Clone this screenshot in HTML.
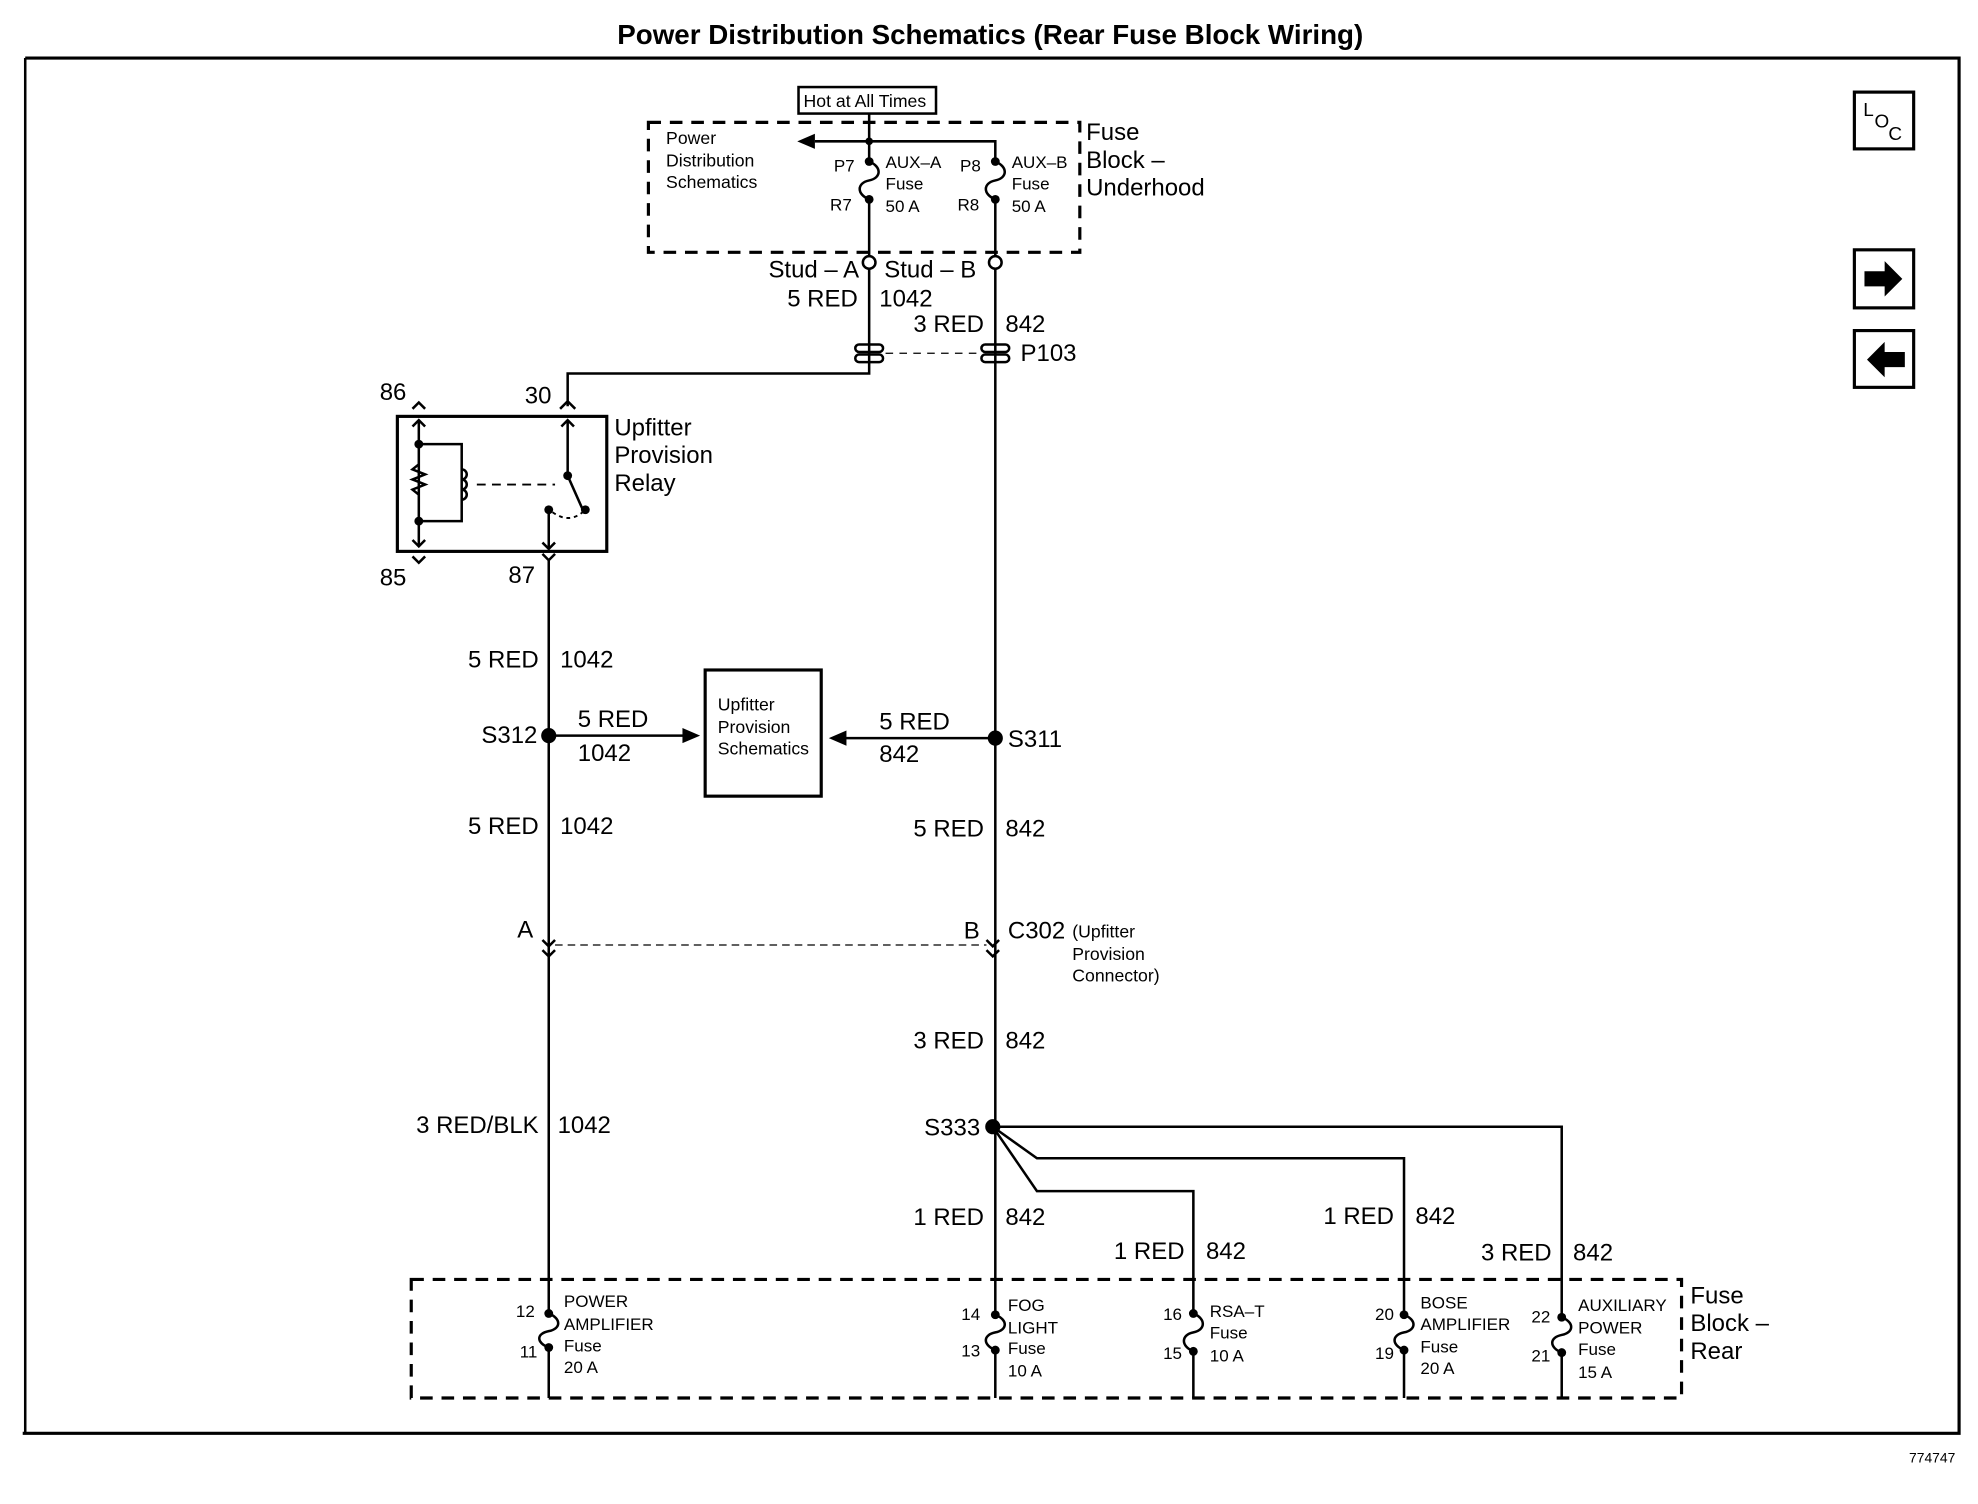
<!DOCTYPE html>
<html><head><meta charset="utf-8"><style>
html,body{margin:0;padding:0;background:#fff}
svg{display:block}
text{font-family:"Liberation Sans",Arial,sans-serif;fill:#000}
.b{font-size:19px}
.s{font-size:13.5px}
.m{font-size:14px}
</style></head><body>
<svg width="1978" height="1504" viewBox="0 0 1568 1192" preserveAspectRatio="none" xmlns="http://www.w3.org/2000/svg">
<g fill="none" stroke="#000" stroke-width="2">
<path d="M20 46 H1553 V1136 H18" stroke-width="2.5"/>
<path d="M20 46 V1136"/>
<rect x="1470" y="73" width="47" height="45" stroke-width="2.5"/>
<rect x="1470" y="198" width="47" height="46" stroke-width="2.5"/>
<rect x="1470" y="262" width="47" height="45" stroke-width="2.5"/>
<rect x="633" y="69" width="109" height="21"/>
<rect x="514" y="97" width="342" height="103" stroke-dasharray="10,7" stroke-width="2.5"/>
<path d="M689 90 V128 M689 158 V203"/>
<path d="M646 112 H789 V128 M789 158 V203"/>
<path d="M689 128 C699 132,699 141,689 143 C679 145,679 154,689 158"/>
<path d="M789 128 C799 132,799 141,789 143 C779 145,779 154,789 158"/>
<circle cx="689" cy="208" r="5"/><circle cx="789" cy="208" r="5"/>
<path d="M689 213 V296 H450 V322"/>
<path d="M789 213 V1108"/>
<rect x="678" y="273" width="22" height="6" rx="3"/><rect x="678" y="281" width="22" height="6" rx="3"/>
<rect x="778" y="273" width="22" height="6" rx="3"/><rect x="778" y="281" width="22" height="6" rx="3"/>
<path d="M702 280 H776" stroke-width="1" stroke-dasharray="6,5"/>
<rect x="315" y="330" width="166" height="107" stroke-width="2.5"/>
<path d="M444 324 L450 318 L456 324 M327 324 L332 319 L337 324 M327 441 L332 446 L337 441"/>
<path d="M332 333 V433 M327 338 L332 333 L337 338 M327 428 L332 433 L337 428"/>
<path d="M332 352 H366 V413 H332"/>
<path d="M332 368 L327 372 L337 376 L327 380 L337 384 L327 388 L332 392"/>
<path d="M366 372 a4 4 0 0 1 0 8 a4 4 0 0 1 0 8 a4 4 0 0 1 0 8"/>
<path d="M378 384 H440" stroke-dasharray="7,5" stroke-width="1.5"/>
<path d="M450 333 V377 L462 404 M445 338 L450 333 L455 338"/>
<path d="M435 404 V435 M430 430 L435 435 L440 430 M430 439 L435 444 L440 439"/>
<path d="M438 406 Q452 416 464 404" stroke-dasharray="3,3" stroke-width="1.5"/>
<path d="M435 444 V1108"/>
<rect x="559" y="531" width="92" height="100" stroke-width="2.5"/>
<path d="M435 583 H545 M789 585 H667"/>
<path d="M430 745 L435 750 L440 745 M430 753 L435 758 L440 753 M782 745 L787 750 L792 745 M782 753 L787 758 L792 753"/>
<path d="M440 749 H782" stroke-width="1" stroke-dasharray="6,4"/>
<path d="M787 893 H1238 V1108"/>
<path d="M787 893 L822 918 H1113 V1108"/>
<path d="M787 893 L822 944 H946 V1108"/>
<rect x="326" y="1014" width="1007" height="94" stroke-dasharray="10,7" stroke-width="2.5"/>
<g stroke="#fff" stroke-width="5"><path d="M435 1044 V1066 M789 1045 V1067 M946 1044 V1068 M1113 1045 V1067 M1238 1047 V1069"/></g>
<path d="M435 1041 C445 1045,445 1053,435 1055 C425 1057,425 1064,435 1068"/>
<path d="M789 1042 C799 1046,799 1054,789 1056 C779 1058,779 1066,789 1070"/>
<path d="M946 1041 C956 1045,956 1054,946 1056 C936 1058,936 1067,946 1071"/>
<path d="M1113 1042 C1123 1046,1123 1054,1113 1056 C1103 1058,1103 1066,1113 1070"/>
<path d="M1238 1044 C1248 1048,1248 1056,1238 1058 C1228 1060,1228 1068,1238 1072"/>
</g>
<g fill="#000">
<circle cx="689" cy="112" r="3"/>
<circle cx="689" cy="128" r="3.5"/><circle cx="689" cy="158" r="3.5"/>
<circle cx="789" cy="128" r="3.5"/><circle cx="789" cy="158" r="3.5"/>
<path d="M632 112 L646 106 L646 118Z"/>
<circle cx="332" cy="352" r="3.5"/><circle cx="332" cy="413" r="3.5"/>
<circle cx="450" cy="377" r="3.5"/><circle cx="464" cy="404" r="3.5"/><circle cx="435" cy="404" r="3.5"/>
<circle cx="435" cy="583" r="6"/><circle cx="789" cy="585" r="6"/><circle cx="787" cy="893" r="6"/>
<path d="M555 583 L541 577 L541 589Z M657 585 L671 579 L671 591Z"/>
<circle cx="435" cy="1041" r="3.5"/><circle cx="435" cy="1068" r="3.5"/>
<circle cx="789" cy="1042" r="3.5"/><circle cx="789" cy="1070" r="3.5"/>
<circle cx="946" cy="1041" r="3.5"/><circle cx="946" cy="1071" r="3.5"/>
<circle cx="1113" cy="1042" r="3.5"/><circle cx="1113" cy="1070" r="3.5"/>
<circle cx="1238" cy="1044" r="3.5"/><circle cx="1238" cy="1072" r="3.5"/>
<path d="M1478 215 H1494 V207 L1508 221 L1494 235 V227 H1478Z"/>
<path d="M1510 279 H1494 V271 L1480 285 L1494 299 V291 H1510Z"/>
</g>
<text x="785" y="35" text-anchor="middle" font-size="22" font-weight="bold">Power Distribution Schematics (Rear Fuse Block Wiring)</text>
<text x="1477" y="92" font-size="15">L</text><text x="1486" y="101" font-size="15">O</text><text x="1497" y="111" font-size="15">C</text>
<text x="1550" y="1159" font-size="11" text-anchor="end">774747</text>
<text x="637" y="85" font-size="14">Hot at All Times</text>
<text class="m" x="528" y="114">Power</text><text class="m" x="528" y="132">Distribution</text><text class="m" x="528" y="149">Schematics</text>
<text class="s" x="661" y="136">P7</text><text class="s" x="658" y="167">R7</text>
<text class="s" x="702" y="133">AUX–A</text><text class="s" x="702" y="150">Fuse</text><text class="s" x="702" y="168">50 A</text>
<text class="s" x="761" y="136">P8</text><text class="s" x="759" y="167">R8</text>
<text class="s" x="802" y="133">AUX–B</text><text class="s" x="802" y="150">Fuse</text><text class="s" x="802" y="168">50 A</text>
<text class="b" x="861" y="111">Fuse</text><text class="b" x="861" y="133">Block –</text><text class="b" x="861" y="155">Underhood</text>
<text class="b" x="681" y="220" text-anchor="end">Stud – A</text><text class="b" x="701" y="220">Stud – B</text>
<text class="b" x="680" y="243" text-anchor="end">5 RED</text><text class="b" x="697" y="243">1042</text>
<text class="b" x="780" y="263" text-anchor="end">3 RED</text><text class="b" x="797" y="263">842</text>
<text class="b" x="809" y="286">P103</text>
<text class="b" x="301" y="317">86</text><text class="b" x="416" y="320">30</text>
<text class="b" x="301" y="464">85</text><text class="b" x="403" y="462">87</text>
<text class="b" x="487" y="345">Upfitter</text><text class="b" x="487" y="367">Provision</text><text class="b" x="487" y="389">Relay</text>
<text class="b" x="427" y="529" text-anchor="end">5 RED</text><text class="b" x="444" y="529">1042</text>
<text class="b" x="426" y="589" text-anchor="end">S312</text>
<text class="b" x="458" y="576">5 RED</text><text class="b" x="458" y="603">1042</text>
<text class="m" x="569" y="563">Upfitter</text><text class="m" x="569" y="581">Provision</text><text class="m" x="569" y="598">Schematics</text>
<text class="b" x="697" y="578">5 RED</text><text class="b" x="697" y="604">842</text>
<text class="b" x="799" y="592">S311</text>
<text class="b" x="427" y="661" text-anchor="end">5 RED</text><text class="b" x="444" y="661">1042</text>
<text class="b" x="780" y="663" text-anchor="end">5 RED</text><text class="b" x="797" y="663">842</text>
<text class="b" x="410" y="743">A</text><text class="b" x="764" y="744">B</text>
<text class="b" x="799" y="744">C302</text>
<text class="m" x="850" y="743">(Upfitter</text><text class="m" x="850" y="761">Provision</text><text class="m" x="850" y="778">Connector)</text>
<text class="b" x="780" y="831" text-anchor="end">3 RED</text><text class="b" x="797" y="831">842</text>
<text class="b" x="427" y="898" text-anchor="end">3 RED/BLK</text><text class="b" x="442" y="898">1042</text>
<text class="b" x="777" y="900" text-anchor="end">S333</text>
<text class="b" x="780" y="971" text-anchor="end">1 RED</text><text class="b" x="797" y="971">842</text>
<text class="b" x="939" y="998" text-anchor="end">1 RED</text><text class="b" x="956" y="998">842</text>
<text class="b" x="1105" y="970" text-anchor="end">1 RED</text><text class="b" x="1122" y="970">842</text>
<text class="b" x="1230" y="999" text-anchor="end">3 RED</text><text class="b" x="1247" y="999">842</text>
<text class="b" x="1340" y="1033">Fuse</text><text class="b" x="1340" y="1055">Block –</text><text class="b" x="1340" y="1077">Rear</text>
<g class="s">
<text x="424" y="1044" text-anchor="end">12</text><text x="426" y="1076" text-anchor="end">11</text>
<text x="447" y="1036">POWER</text><text x="447" y="1054">AMPLIFIER</text><text x="447" y="1071">Fuse</text><text x="447" y="1088">20 A</text>
<text x="777" y="1046" text-anchor="end">14</text><text x="777" y="1075" text-anchor="end">13</text>
<text x="799" y="1039">FOG</text><text x="799" y="1057">LIGHT</text><text x="799" y="1073">Fuse</text><text x="799" y="1091">10 A</text>
<text x="937" y="1046" text-anchor="end">16</text><text x="937" y="1077" text-anchor="end">15</text>
<text x="959" y="1044">RSA–T</text><text x="959" y="1061">Fuse</text><text x="959" y="1079">10 A</text>
<text x="1105" y="1046" text-anchor="end">20</text><text x="1105" y="1077" text-anchor="end">19</text>
<text x="1126" y="1037">BOSE</text><text x="1126" y="1054">AMPLIFIER</text><text x="1126" y="1072">Fuse</text><text x="1126" y="1089">20 A</text>
<text x="1229" y="1048" text-anchor="end">22</text><text x="1229" y="1079" text-anchor="end">21</text>
<text x="1251" y="1039">AUXILIARY</text><text x="1251" y="1057">POWER</text><text x="1251" y="1074">Fuse</text><text x="1251" y="1092">15 A</text>
</g>
</svg>
</body></html>
